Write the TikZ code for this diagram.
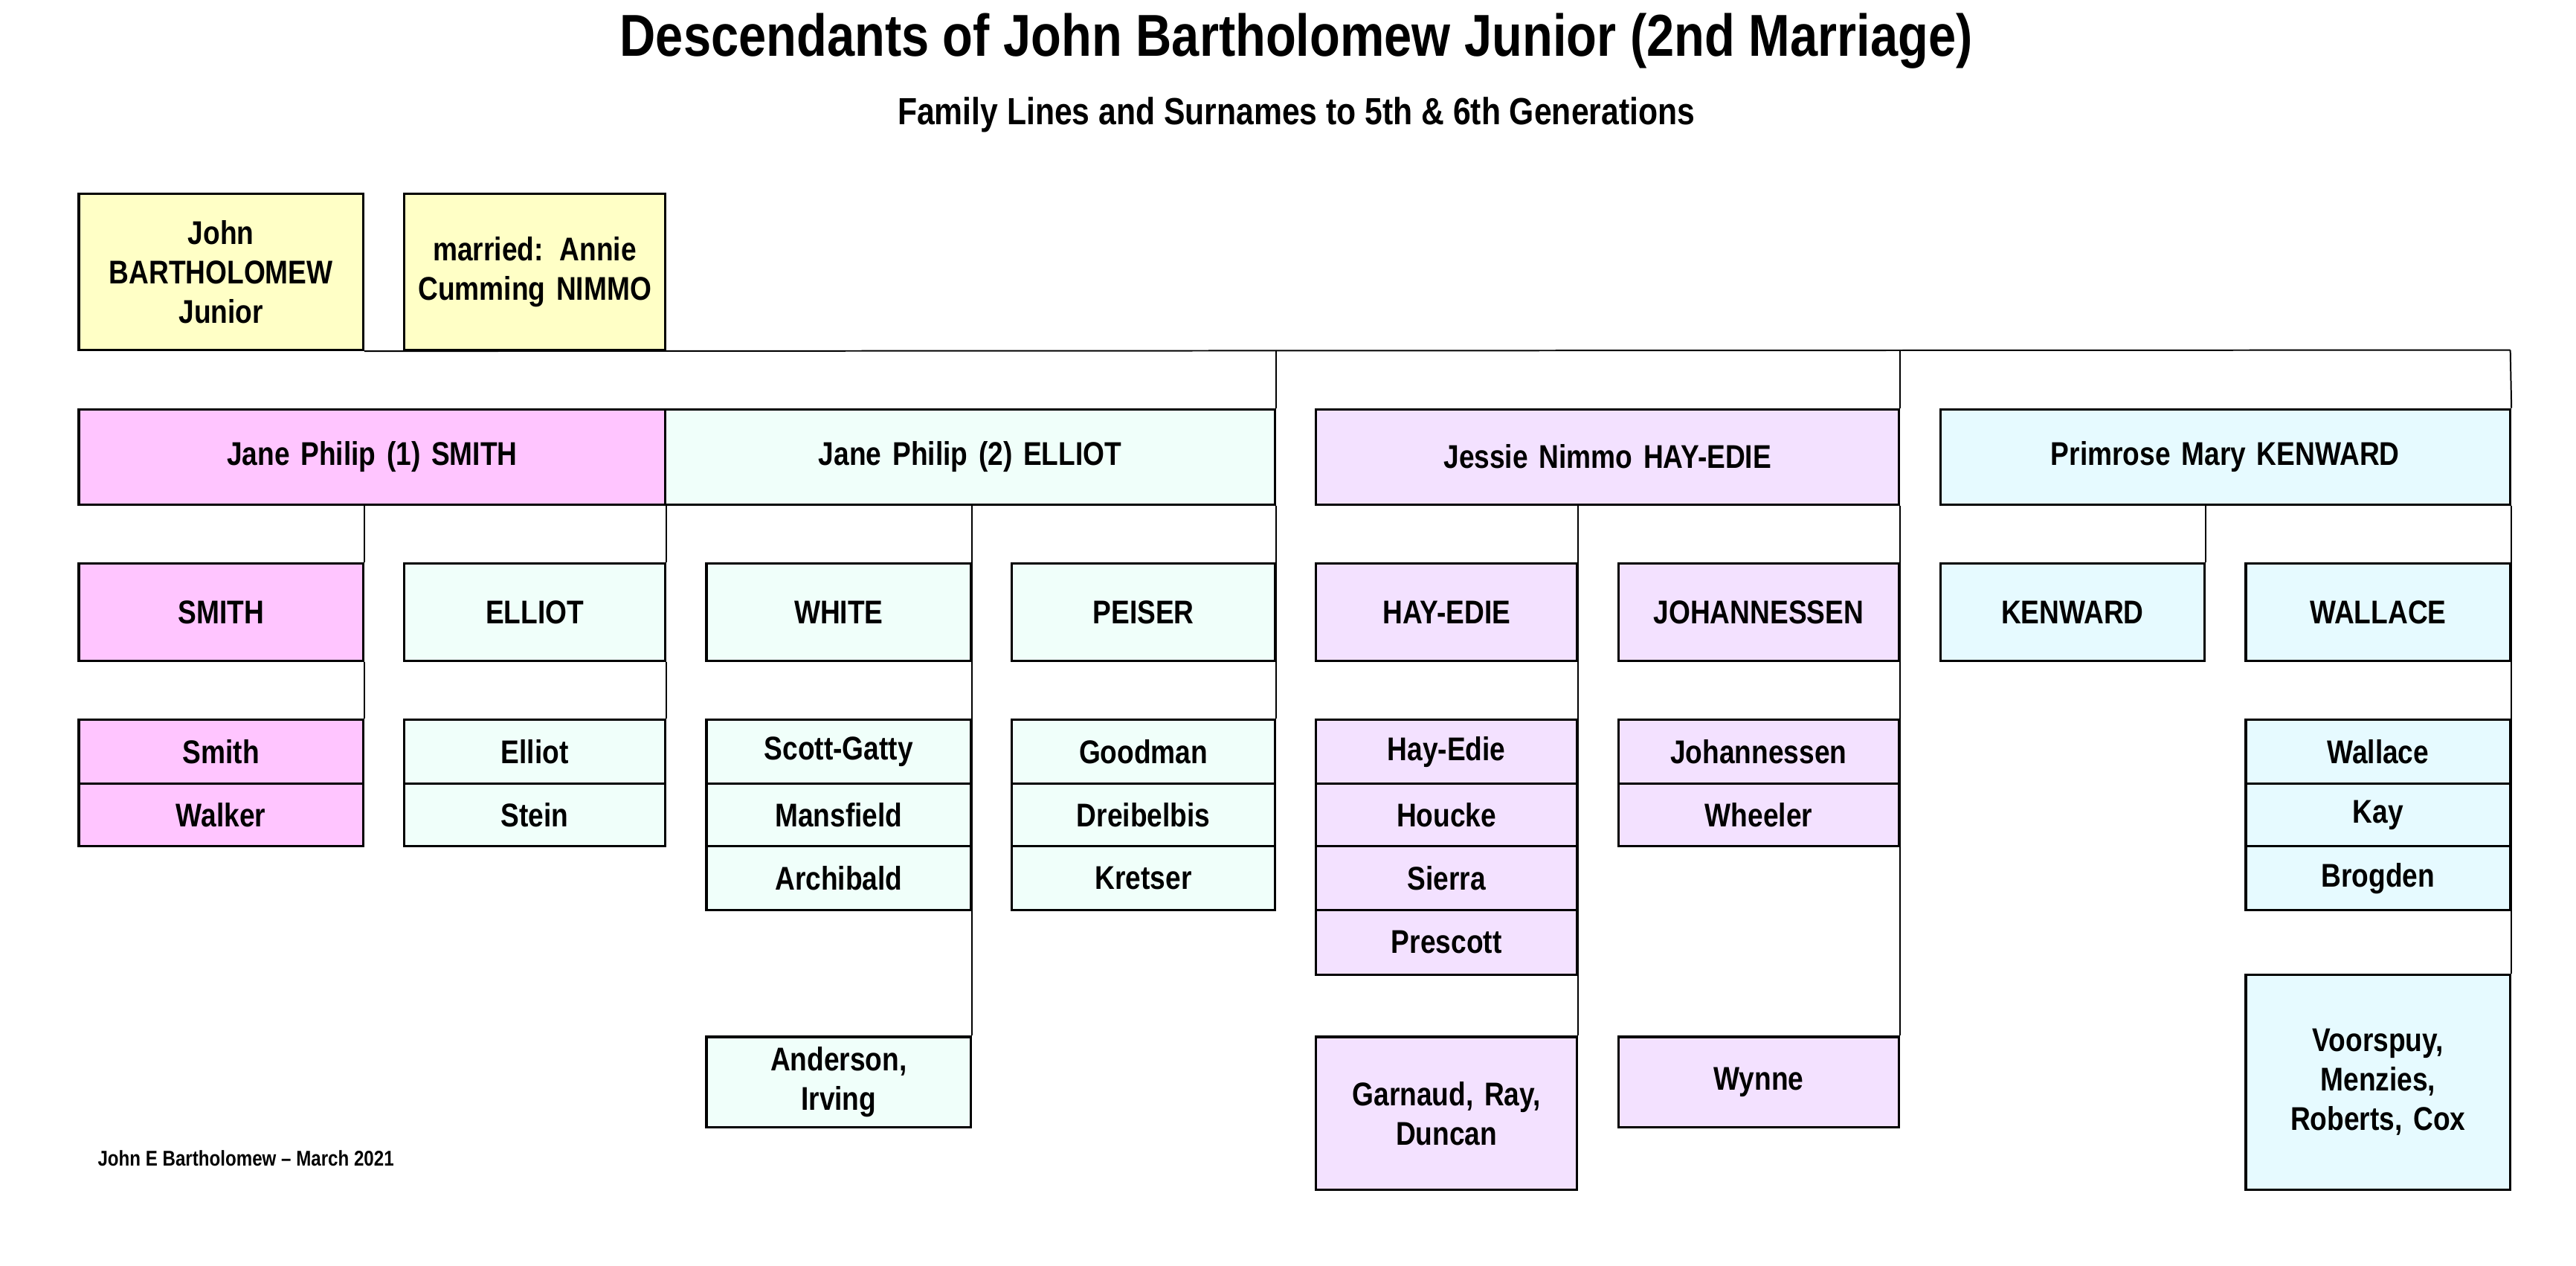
\documentclass[tikz,border=0pt]{standalone}
\usepackage{fontspec}
\setmainfont{Liberation Sans}[FakeStretch=0.84]
\definecolor{pk}{HTML}{FFC5FF}
\definecolor{cy}{HTML}{F0FFFA}
\definecolor{lv}{HTML}{F3E1FF}
\definecolor{lb}{HTML}{E6FAFF}
\definecolor{yl}{HTML}{FFFFC6}
\tikzset{box/.style={draw,line width=1.4pt,inner sep=2pt,align=center,font=\fontsize{20}{24}\selectfont\bfseries},
 con/.style={line width=0.9pt}}
\newcommand\bx[7]{\node[box,fill=#6,minimum width={(#4-#2)*1pt},minimum height={(#5-#3)*1pt},text width={(#4-#2-8)*1pt}] (#1) at ({(#2+#4)/2},{-(#3+#5)/2}) {#7};}
\begin{document}
\begin{tikzpicture}[x=1pt,y=1pt]
\useasboundingbox[fill=white] (0,0) rectangle (1568,-770);
\node[font=\fontsize{36}{40}\selectfont\bfseries] (title) at (789,-25) {Descendants of John Bartholomew Junior (2nd Marriage)};
\node[font=\fontsize{23}{27}\selectfont\bfseries] (sub) at (789,-70) {Family Lines and Surnames to 5th \& 6th Generations};
\node[font=\fontsize{13}{15}\selectfont\bfseries,anchor=west] (foot) at (56,-705) {John E Bartholomew -- March 2021};
\bx{john}{48}{118}{221}{213}{yl}{John BARTHOLOMEW Junior}
\bx{mar}{246}{118}{405}{213}{yl}{married: Annie Cumming NIMMO}
\bx{jp1}{48}{249}{405}{307}{pk}{Jane Philip (1) SMITH}
\bx{jp2}{405}{249}{776}{307}{cy}{Jane Philip (2) ELLIOT}
\bx{jes}{801}{249}{1156}{307}{lv}{Jessie Nimmo HAY-EDIE}
\bx{pri}{1181}{249}{1528}{307}{lb}{Primrose Mary KENWARD}
\bx{sm}{48}{343}{221}{402}{pk}{SMITH}
\bx{el}{246}{343}{405}{402}{cy}{ELLIOT}
\bx{wh}{430}{343}{591}{402}{cy}{WHITE}
\bx{pe}{616}{343}{776}{402}{cy}{PEISER}
\bx{he}{801}{343}{960}{402}{lv}{HAY-EDIE}
\bx{jo}{985}{343}{1156}{402}{lv}{JOHANNESSEN}
\bx{ke}{1181}{343}{1342}{402}{lb}{KENWARD}
\bx{wa}{1367}{343}{1528}{402}{lb}{WALLACE}
\bx{sm1}{48}{438}{221}{477}{pk}{Smith}
\bx{sm2}{48}{477}{221}{515}{pk}{Walker}
\bx{el1}{246}{438}{405}{477}{cy}{Elliot}
\bx{el2}{246}{477}{405}{515}{cy}{Stein}
\bx{wh1}{430}{438}{591}{477}{cy}{Scott-Gatty}
\bx{wh2}{430}{477}{591}{515}{cy}{Mansfield}
\bx{wh3}{430}{515}{591}{554}{cy}{Archibald}
\bx{pe1}{616}{438}{776}{477}{cy}{Goodman}
\bx{pe2}{616}{477}{776}{515}{cy}{Dreibelbis}
\bx{pe3}{616}{515}{776}{554}{cy}{Kretser}
\bx{he1}{801}{438}{960}{477}{lv}{Hay-Edie}
\bx{he2}{801}{477}{960}{515}{lv}{Houcke}
\bx{he3}{801}{515}{960}{554}{lv}{Sierra}
\bx{he4}{801}{554}{960}{593}{lv}{Prescott}
\bx{jo1}{985}{438}{1156}{477}{lv}{Johannessen}
\bx{jo2}{985}{477}{1156}{515}{lv}{Wheeler}
\bx{wa1}{1367}{438}{1528}{477}{lb}{Wallace}
\bx{wa2}{1367}{477}{1528}{515}{lb}{Kay}
\bx{wa3}{1367}{515}{1528}{554}{lb}{Brogden}
\bx{an}{430}{631}{591}{686}{cy}{Anderson,\\Irving}
\bx{ga}{801}{631}{960}{724}{lv}{Garnaud, Ray,\\Duncan}
\bx{wy}{985}{631}{1156}{686}{lv}{Wynne}
\bx{vo}{1367}{593}{1528}{724}{lb}{Voorspuy,\\Menzies,\\Roberts, Cox}
\coordinate (bar) at (1528,-213);
\draw[con] (john.south east) -- (bar);
\draw[con] (jp2.south east |- bar) -- (jp2.north east);
\draw[con] (jes.south east |- bar) -- (jes.north east);
\draw[con] (bar) -- (pri.north east);
\draw[con] (jp1.south -| sm.east) -- (sm.north east);
\draw[con] (jp1.south east) -- (el.north east);
\draw[con] (jp2.south -| wh.east) -- (an.north east);
\draw[con] (jp2.south east) -- (pe1.north east);
\draw[con] (jes.south -| he.east) -- (ga.north east);
\draw[con] (jes.south east) -- (wy.north east);
\draw[con] (pri.south -| ke.east) -- (ke.north east);
\draw[con] (pri.south east) -- (vo.north east);
\draw[con] (sm.south east) -- (sm1.north east);
\draw[con] (el.south east) -- (el1.north east);
\end{tikzpicture}
\end{document}
